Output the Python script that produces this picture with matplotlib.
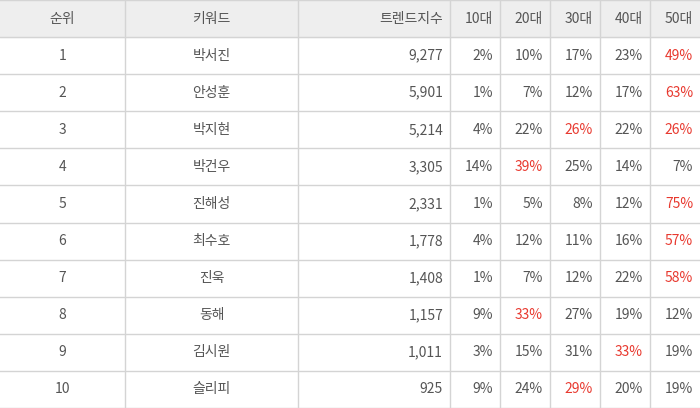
import matplotlib
matplotlib.use("Agg")
import matplotlib.pyplot as plt
from matplotlib.patches import Rectangle

plt.rcParams['font.family'] = ['Noto Sans CJK KR', 'DejaVu Sans']

headers = ["순위", "키워드", "트렌드지수", "10대", "20대", "30대", "40대", "50대"]
ranks = [1, 2, 3, 4, 5, 6, 7, 8, 9, 10]
keywords = ["박서진", "안성훈", "박지현", "박건우", "진해성", "최수호", "진욱", "동해", "김시원", "슬리피"]
trend = [9277, 5901, 5214, 3305, 2331, 1778, 1408, 1157, 1011, 925]
age10 = [2, 1, 4, 14, 1, 4, 1, 9, 3, 9]
age20 = [10, 7, 22, 39, 5, 12, 7, 33, 15, 24]
age30 = [17, 12, 26, 25, 8, 11, 12, 27, 31, 29]
age40 = [23, 17, 22, 14, 12, 16, 22, 19, 33, 20]
age50 = [49, 63, 26, 7, 75, 57, 58, 12, 19, 19]

W, H = 700, 408
fig = plt.figure(figsize=(7, 4.08), dpi=100)
ax = fig.add_axes([0, 0, 1, 1])
ax.set_xlim(0, W); ax.set_ylim(H, 0); ax.axis('off')

xs = [0, 125, 298, 450, 500, 550, 600, 650, 700]
nrows = 11
rh = H / nrows
grid = '#d4d4d4'; txt = '#555555'; red = '#e8392f'

ax.add_patch(Rectangle((0, 0), W, rh, color='#eeeeee', zorder=0))
for i in range(nrows + 1):
    y = min(i * rh, H - 0.5)
    ax.plot([0, W], [y, y], color=grid, lw=1)
for x in xs[1:-1]:
    ax.plot([x, x], [0, H], color=grid, lw=1)

fs = 10
for j, h in enumerate(headers):
    if j < 2:
        ax.text((xs[j] + xs[j+1]) / 2, rh / 2, h, ha='center', va='center', fontsize=fs, color=txt)
    else:
        ax.text(xs[j+1] - 7, rh / 2, h, ha='right', va='center', fontsize=fs, color=txt)

ages = [age10, age20, age30, age40, age50]
for i in range(len(ranks)):
    yc = (i + 1.5) * rh
    ax.text((xs[0] + xs[1]) / 2, yc, str(ranks[i]), ha='center', va='center', fontsize=fs, color=txt)
    ax.text((xs[1] + xs[2]) / 2, yc, keywords[i], ha='center', va='center', fontsize=fs, color=txt)
    ax.text(xs[3] - 7, yc, f"{trend[i]:,}", ha='right', va='center', fontsize=fs, color=txt)
    vals = [a[i] for a in ages]
    mx = max(vals)
    for k, v in enumerate(vals):
        ax.text(xs[k+4] - 7, yc, f"{v}%", ha='right', va='center', fontsize=fs,
                color=red if v == mx else txt)

fig.savefig("out.png", dpi=100)
